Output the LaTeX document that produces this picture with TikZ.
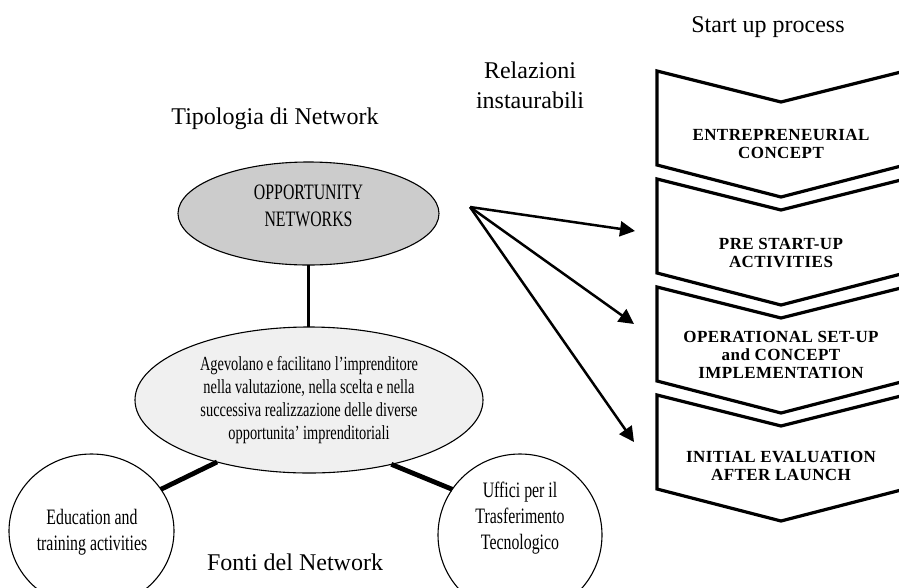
\documentclass[tikz,border=0pt]{standalone}
\usepackage{fontspec}
\setmainfont{Liberation Serif}
\newfontfamily\condfont[FakeStretch=0.72]{Liberation Serif}
\newfontfamily\stagefont[LetterSpace=2.5]{Liberation Serif}
\usetikzlibrary{shapes.geometric,arrows.meta}

\definecolor{opgray}{gray}{0.80}
\definecolor{descgray}{gray}{0.94}

\tikzset{
  every node/.style={inner sep=0pt, outer sep=0pt},
  bubble/.style={ellipse, draw=black, line width=1.1pt},
  condtext/.style={align=center, font=\condfont\fontsize{22}{27}\selectfont},
  heading/.style={font=\fontsize{24}{30}\selectfont},
  stagetext/.style={align=center, font=\stagefont\bfseries\fontsize{17}{18}\selectfont},
  stageshape/.style={draw=black, line width=3.2pt, line join=miter, fill=white},
  heavylink/.style={line width=4.8pt},
  stemlink/.style={line width=3pt},
  relarrow/.style={line width=2.5pt, -{Triangle[length=15pt,width=15pt]}}
}

\begin{document}
\begin{tikzpicture}[x=1pt, y=-1pt]
  \useasboundingbox (0,0) rectangle (899,587);

  % ---- network side: ellipses ----
  \node[bubble, fill=opgray, minimum width=261pt, minimum height=103pt] (opp) at (308.5,213.5) {};
  \node[bubble, fill=descgray, minimum width=348pt, minimum height=146pt] (desc) at (309,400) {};
  \node[bubble, fill=white, minimum width=165pt, minimum height=154pt] (edu) at (91.5,531) {};
  \node[bubble, fill=white, minimum width=164pt, minimum height=162pt] (uff) at (520,535) {};

  \node[condtext] (opptext) at (308.5,205.5) {OPPORTUNITY\\NETWORKS};
  \node[condtext, font=\condfont\fontsize{20}{23}\selectfont] (desctext) at (309,400)
    {Agevolano e facilitano l’imprenditore\\nella valutazione, nella scelta e nella\\successiva realizzazione delle diverse\\opportunita’ imprenditoriali};
  \node[condtext, font=\condfont\fontsize{22}{26}\selectfont] (edutext) at (92,532) {Education and\\training activities};
  \node[condtext, font=\condfont\fontsize{22}{26}\selectfont] (ufftext) at (520,518) {Uffici per il\\Trasferimento\\Tecnologico};

  % ---- links between network nodes ----
  \draw[stemlink] (opp.south) -- (opp.south |- desc.north);
  \draw[heavylink] (edu.31.6) -- (desc.214.9);
  \draw[heavylink] (desc.322.7) -- (uff.146.3);

  % ---- start up process: chevrons ----
  \foreach \t in {71,179,287,395}{
    \draw[stageshape] (657,\t) -- (781,\t+31) -- (905,\t) -- (905,\t+94)
      -- (781,\t+126) -- (657,\t+94) -- cycle;
  }
  \node[stagetext] (stage1) at (781,143.5) {ENTREPRENEURIAL\\CONCEPT};
  \node[stagetext] (stage2) at (781,253) {PRE START-UP\\ACTIVITIES};
  \node[stagetext] (stage3) at (781,355) {OPERATIONAL SET-UP\\and CONCEPT\\IMPLEMENTATION};
  \node[stagetext] (stage4) at (781,466) {INITIAL EVALUATION\\AFTER LAUNCH};

  % ---- relations: arrows fanning out ----
  \coordinate (hub) at (470,207);
  \coordinate (tip1) at (635,231);
  \coordinate (tip2) at (634,324);
  \coordinate (tip3) at (634,442);
  \draw[relarrow] (hub) -- (tip1);
  \draw[relarrow] (hub) -- (tip2);
  \draw[relarrow] (hub) -- (tip3);

  % ---- headings ----
  \node[heading, anchor=base] (startlbl) at (768,32) {Start up process};
  \node[heading, align=center] (rellbl) at (530,85) {Relazioni\\instaurabili};
  \node[heading, anchor=base] (tiplbl) at (275,124) {Tipologia di Network};
  \node[heading, anchor=base] (fontilbl) at (295,570) {Fonti del Network};
\end{tikzpicture}
\end{document}
